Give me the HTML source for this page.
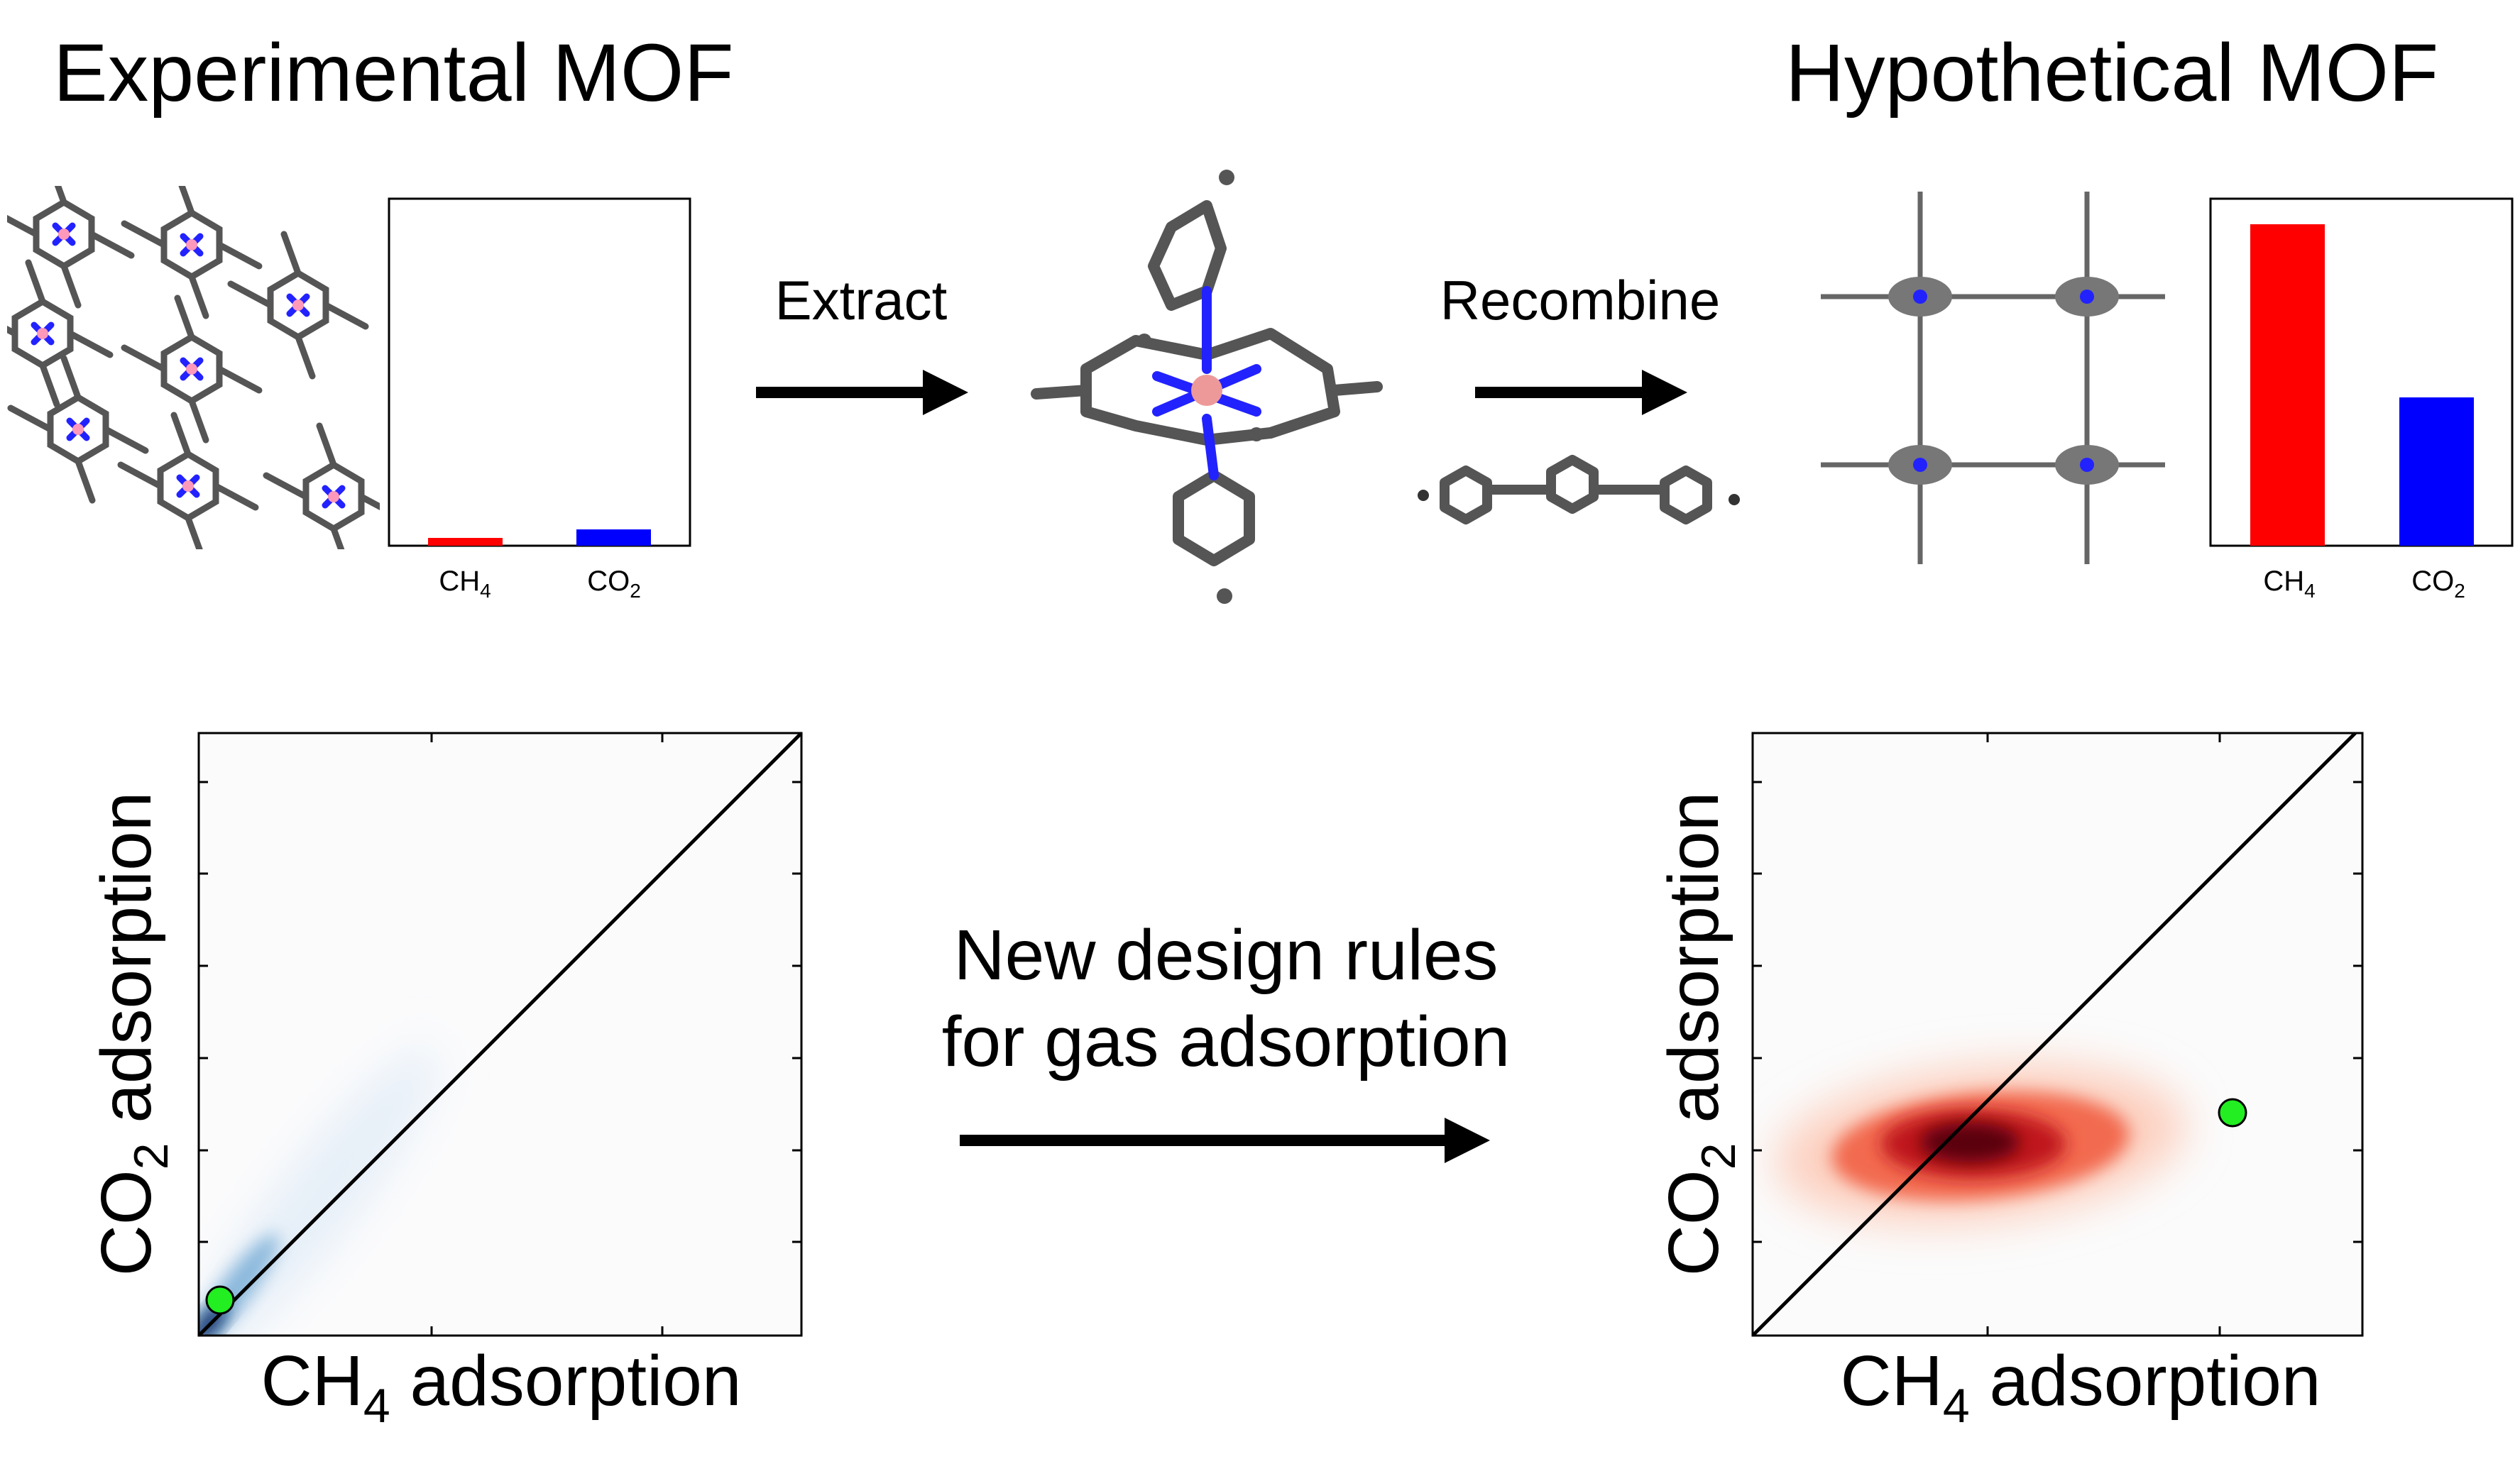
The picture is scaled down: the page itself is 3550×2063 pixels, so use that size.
<!DOCTYPE html>
<html><head><meta charset="utf-8"><style>
html,body{margin:0;padding:0;background:#fff;}
body{width:3550px;height:2063px;position:relative;overflow:hidden;font-family:"Liberation Sans",Arial,sans-serif;}
</style></head><body>
<svg width="3550" height="2063" style="position:absolute;left:0;top:0" xmlns="http://www.w3.org/2000/svg">
<defs>
<filter id="b1" x="-50%" y="-50%" width="200%" height="200%"><feGaussianBlur stdDeviation="30"/></filter>
<filter id="b2" x="-50%" y="-50%" width="200%" height="200%"><feGaussianBlur stdDeviation="12"/></filter>
<marker id="ah" markerWidth="4" markerHeight="4" refX="0" refY="2" orient="auto"><path d="M0,0 L4,2 L0,4z" fill="#000"/></marker>
<clipPath id="c1"><rect x="280" y="1033" width="849" height="849"/></clipPath>
<clipPath id="c2"><rect x="2469" y="1033" width="859" height="849"/></clipPath>
<clipPath id="c0"><rect x="10" y="262" width="525" height="512"/></clipPath>
</defs>

<rect x="548" y="280" width="424" height="489" fill="none" stroke="#000" stroke-width="3"/>
<rect x="603" y="758" width="105" height="11" fill="#f00"/>
<rect x="812" y="746" width="105" height="23" fill="#00f"/>
<text x="655" y="832" font-size="40" text-anchor="middle" font-family="Liberation Sans">CH<tspan font-size="28" dy="10">4</tspan></text>
<text x="865" y="832" font-size="40" text-anchor="middle" font-family="Liberation Sans">CO<tspan font-size="28" dy="10">2</tspan></text>

<rect x="3114" y="280" width="425" height="489" fill="none" stroke="#000" stroke-width="3"/>
<rect x="3170" y="316" width="105" height="453" fill="#f00"/>
<rect x="3380" y="560" width="105" height="209" fill="#00f"/>
<text x="3225" y="832" font-size="40" text-anchor="middle" font-family="Liberation Sans">CH<tspan font-size="28" dy="10">4</tspan></text>
<text x="3435" y="832" font-size="40" text-anchor="middle" font-family="Liberation Sans">CO<tspan font-size="28" dy="10">2</tspan></text>

<line x1="1065" y1="553" x2="1300" y2="553" stroke="#000" stroke-width="16" marker-end="url(#ah)"/>
<line x1="2078" y1="553" x2="2313" y2="553" stroke="#000" stroke-width="16" marker-end="url(#ah)"/>
<line x1="1352" y1="1607" x2="2035" y2="1607" stroke="#000" stroke-width="16" marker-end="url(#ah)"/>

<g stroke="#555" stroke-width="9" fill="none" stroke-linecap="round" clip-path="url(#c0)">
<g id="por">
<polygon points="0,-45 39,-22 39,22 0,45 -39,22 -39,-22"/>
<line x1="-39" y1="0" x2="-95" y2="-30"/><line x1="39" y1="0" x2="95" y2="30"/>
<line x1="0" y1="-45" x2="-20" y2="-100"/><line x1="0" y1="45" x2="20" y2="100"/>
<line x1="-12" y1="-12" x2="12" y2="12" stroke="#22f"/><line x1="12" y1="-12" x2="-12" y2="12" stroke="#22f"/>
<circle cx="0" cy="0" r="8" fill="#f9b" stroke="none"/>
</g>
<use href="#por" x="270" y="345"/>
<use href="#por" x="420" y="430"/>
<use href="#por" x="270" y="520"/>
<use href="#por" x="110" y="605"/>
<use href="#por" x="265" y="685"/>
<use href="#por" x="90" y="330"/>
<use href="#por" x="470" y="700"/>
<use href="#por" x="60" y="470"/>
</g>

<g stroke="#555" stroke-width="16" fill="none" stroke-linecap="round" stroke-linejoin="round">
<polygon points="1650,320 1700,290 1720,350 1700,410 1650,430 1625,375"/>
<polygon points="1660,700 1710,670 1760,700 1760,760 1710,790 1660,760"/>
<polygon points="1530,520 1600,480 1700,500 1790,470 1870,520 1880,580 1790,610 1700,620 1600,600 1530,580"/>
<line x1="1460" y1="555" x2="1530" y2="550"/><line x1="1880" y1="550" x2="1940" y2="545"/>
</g>
<g stroke="#22f" stroke-width="14" stroke-linecap="round">
<line x1="1700" y1="410" x2="1700" y2="520"/><line x1="1700" y1="590" x2="1710" y2="670"/>
<line x1="1630" y1="530" x2="1770" y2="580"/><line x1="1770" y1="520" x2="1630" y2="580"/>
</g>
<circle cx="1700" cy="550" r="22" fill="#e99"/>
<circle cx="1728" cy="250" r="11" fill="#555"/><circle cx="1725" cy="840" r="11" fill="#555"/>
<circle cx="1612" cy="480" r="10" fill="#555"/><circle cx="1770" cy="612" r="10" fill="#555"/>

<g stroke="#555" stroke-width="14" fill="none" stroke-linejoin="round">
<polygon points="2035,680 2065,663 2095,680 2095,715 2065,732 2035,715"/>
<polygon points="2185,665 2215,648 2245,665 2245,700 2215,717 2185,700"/>
<polygon points="2345,680 2375,663 2405,680 2405,715 2375,732 2345,715"/>
<line x1="2095" y1="690" x2="2185" y2="690"/><line x1="2245" y1="690" x2="2345" y2="690"/>
</g>
<circle cx="2005" cy="698" r="8" fill="#333"/><circle cx="2443" cy="704" r="8" fill="#333"/>

<g stroke="#666" stroke-width="7" fill="none">
<line x1="2565" y1="418" x2="3050" y2="418"/><line x1="2565" y1="655" x2="3050" y2="655"/>
<line x1="2705" y1="270" x2="2705" y2="795"/><line x1="2940" y1="270" x2="2940" y2="795"/>
</g>
<g fill="#777">
<ellipse cx="2705" cy="418" rx="45" ry="28"/><ellipse cx="2940" cy="418" rx="45" ry="28"/>
<ellipse cx="2705" cy="655" rx="45" ry="28"/><ellipse cx="2940" cy="655" rx="45" ry="28"/>
</g>
<g fill="#22f"><circle cx="2705" cy="418" r="10"/><circle cx="2940" cy="418" r="10"/><circle cx="2705" cy="655" r="10"/><circle cx="2940" cy="655" r="10"/></g>

<g clip-path="url(#c1)">
<rect x="280" y="1033" width="849" height="849" fill="#fbfbfc"/>
<ellipse cx="440" cy="1700" rx="280" ry="55" transform="rotate(-52 440 1700)" fill="#e6eff8" filter="url(#b1)"/>
<ellipse cx="330" cy="1820" rx="100" ry="22" transform="rotate(-53 330 1820)" fill="#8ab8dc" filter="url(#b2)"/>
<ellipse cx="295" cy="1865" rx="35" ry="14" transform="rotate(-50 295 1865)" fill="#08306b" filter="url(#b2)"/>
</g>
<rect x="280" y="1033" width="849" height="849" fill="none" stroke="#000" stroke-width="3"/>
<line x1="280" y1="1882" x2="1129" y2="1033" stroke="#000" stroke-width="5"/>
<g stroke="#000" stroke-width="3">
<line x1="280" y1="1102" x2="293" y2="1102"/><line x1="280" y1="1231" x2="293" y2="1231"/><line x1="280" y1="1361" x2="293" y2="1361"/><line x1="280" y1="1491" x2="293" y2="1491"/><line x1="280" y1="1621" x2="293" y2="1621"/><line x1="280" y1="1750" x2="293" y2="1750"/>
<line x1="1116" y1="1102" x2="1129" y2="1102"/><line x1="1116" y1="1231" x2="1129" y2="1231"/><line x1="1116" y1="1361" x2="1129" y2="1361"/><line x1="1116" y1="1491" x2="1129" y2="1491"/><line x1="1116" y1="1621" x2="1129" y2="1621"/><line x1="1116" y1="1750" x2="1129" y2="1750"/>
<line x1="608" y1="1882" x2="608" y2="1869"/><line x1="933" y1="1882" x2="933" y2="1869"/>
<line x1="608" y1="1033" x2="608" y2="1046"/><line x1="933" y1="1033" x2="933" y2="1046"/>
</g>
<circle cx="310" cy="1832" r="19" fill="#2e2" stroke="#000" stroke-width="3"/>

<g clip-path="url(#c2)">
<rect x="2469" y="1033" width="859" height="849" fill="#fbfbfb"/>
<ellipse cx="2790" cy="1612" rx="290" ry="110" transform="rotate(-6 2790 1612)" fill="#fcd0c0" filter="url(#b1)"/>
<ellipse cx="2790" cy="1615" rx="210" ry="75" transform="rotate(-5 2790 1615)" fill="#f26a50" filter="url(#b2)"/>
<ellipse cx="2780" cy="1612" rx="130" ry="48" fill="#c0141e" filter="url(#b2)"/>
<ellipse cx="2775" cy="1610" rx="70" ry="28" fill="#5a000a" filter="url(#b2)"/>
</g>
<rect x="2469" y="1033" width="859" height="849" fill="none" stroke="#000" stroke-width="3"/>
<line x1="2469" y1="1882" x2="3318" y2="1033" stroke="#000" stroke-width="5"/>
<g stroke="#000" stroke-width="3">
<line x1="2469" y1="1102" x2="2482" y2="1102"/><line x1="2469" y1="1231" x2="2482" y2="1231"/><line x1="2469" y1="1361" x2="2482" y2="1361"/><line x1="2469" y1="1491" x2="2482" y2="1491"/><line x1="2469" y1="1621" x2="2482" y2="1621"/><line x1="2469" y1="1750" x2="2482" y2="1750"/>
<line x1="3315" y1="1102" x2="3328" y2="1102"/><line x1="3315" y1="1231" x2="3328" y2="1231"/><line x1="3315" y1="1361" x2="3328" y2="1361"/><line x1="3315" y1="1491" x2="3328" y2="1491"/><line x1="3315" y1="1621" x2="3328" y2="1621"/><line x1="3315" y1="1750" x2="3328" y2="1750"/>
<line x1="2800" y1="1882" x2="2800" y2="1869"/><line x1="3127" y1="1882" x2="3127" y2="1869"/>
<line x1="2800" y1="1033" x2="2800" y2="1046"/><line x1="3127" y1="1033" x2="3127" y2="1046"/>
</g>
<circle cx="3145" cy="1568" r="19" fill="#2e2" stroke="#000" stroke-width="3"/>

<g font-family="Liberation Sans" fill="#000">
<text x="75" y="142" font-size="115">Experimental MOF</text>
<text x="2515" y="142" font-size="115">Hypothetical MOF</text>
<text x="1213" y="450" font-size="78" text-anchor="middle">Extract</text>
<text x="2226" y="450" font-size="78" text-anchor="middle">Recombine</text>
<text x="1727" y="1380" font-size="100" text-anchor="middle">New design rules</text>
<text x="1727" y="1502" font-size="100" text-anchor="middle">for gas adsorption</text>
<text x="706" y="1980" font-size="100" text-anchor="middle">CH<tspan font-size="68" dy="24">4</tspan><tspan dy="-24"> adsorption</tspan></text>
<text x="2931" y="1980" font-size="100" text-anchor="middle">CH<tspan font-size="68" dy="24">4</tspan><tspan dy="-24"> adsorption</tspan></text>
<text transform="translate(212 1457) rotate(-90)" font-size="100" text-anchor="middle">CO<tspan font-size="68" dy="24">2</tspan><tspan dy="-24"> adsorption</tspan></text>
<text transform="translate(2420 1457) rotate(-90)" font-size="100" text-anchor="middle">CO<tspan font-size="68" dy="24">2</tspan><tspan dy="-24"> adsorption</tspan></text>
</g>
</svg>
</body></html>
